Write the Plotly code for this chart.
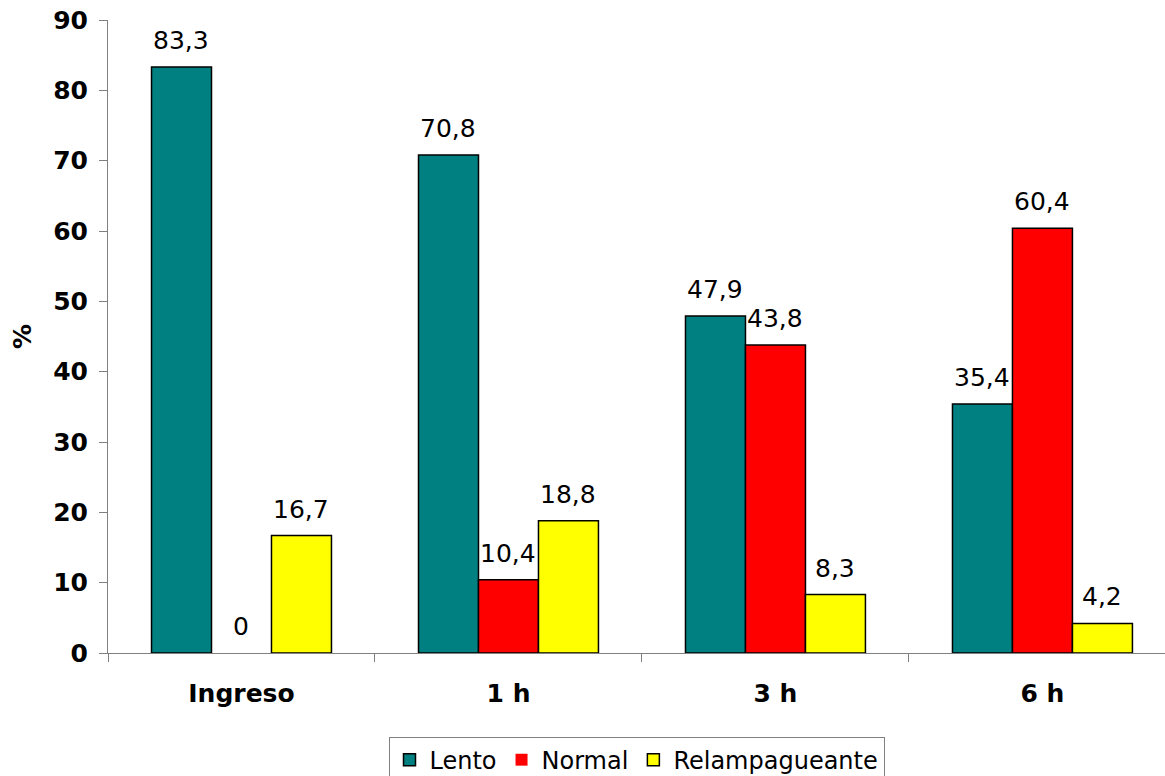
import plotly.graph_objects as go

categories = ["Ingreso", "1 h", "3 h", "6 h"]
lento = [83.3, 70.8, 47.9, 35.4]
normal = [0, 10.4, 43.8, 60.4]
relampagueante = [16.7, 18.8, 8.3, 4.2]
series_names = ["Lento", "Normal", "Relampagueante"]
series_values = [lento, normal, relampagueante]
colors = ["#008080", "#FF0000", "#FFFF00"]
y_ticks = list(range(0, 91, 10))

FONT = "DejaVu Sans, Verdana, sans-serif"
FS = 25


def fmt(v):
    s = f"{v:g}"
    return s.replace(".", ",")


fig = go.Figure()
for name, vals, col in zip(series_names, series_values, colors):
    fig.add_trace(go.Bar(
        x=categories, y=vals, name=name,
        marker=dict(color=col, line=dict(color="black",
                                         width=[1.5 if v != 0 else 0 for v in vals])),
    ))

bar_px = 60
for i, vals in enumerate(series_values):
    for c, v in zip(categories, vals):
        fig.add_annotation(
            x=c, y=v, text=fmt(v), showarrow=False,
            xshift=(i - 1) * bar_px, yshift=10, yanchor="bottom",
            font=dict(family=FONT, size=FS, color="black"),
        )

fig.update_layout(
    width=1165, height=776,
    margin=dict(l=108, r=0, t=20, b=123, autoexpand=False),
    paper_bgcolor="white", plot_bgcolor="white",
    barmode="group", bargap=0.326, bargroupgap=0,
    font=dict(family=FONT, color="black"),
    showlegend=True,
    legend=dict(
        orientation="h", x=0.5, xanchor="center", y=-0.132, yanchor="top",
        font=dict(family=FONT, size=24, color="black"),
        bordercolor="#808080", borderwidth=1,
        itemwidth=30, tracegroupgap=0,
    ),
)

fig.update_xaxes(
    range=[-0.5, 3.459],
    showline=True, linecolor="#808080", linewidth=1,
    ticks="outside", tickson="boundaries", ticklen=8, tickcolor="#808080",
    ticklabelstandoff=18,
    tickfont=dict(family=FONT, size=FS, color="black", weight="bold"),
    showgrid=False, zeroline=False,
)
fig.update_yaxes(
    range=[0, 90], tickvals=y_ticks,
    showline=True, linecolor="#808080", linewidth=1,
    ticks="outside", ticklen=8, tickcolor="#808080",
    ticklabelstandoff=6,
    tickfont=dict(family=FONT, size=FS, color="black", weight="bold"),
    showgrid=False, zeroline=False,
    title=dict(text="%", font=dict(family=FONT, size=FS, color="black", weight="bold"), standoff=14),
)

fig.write_html("out.html")
